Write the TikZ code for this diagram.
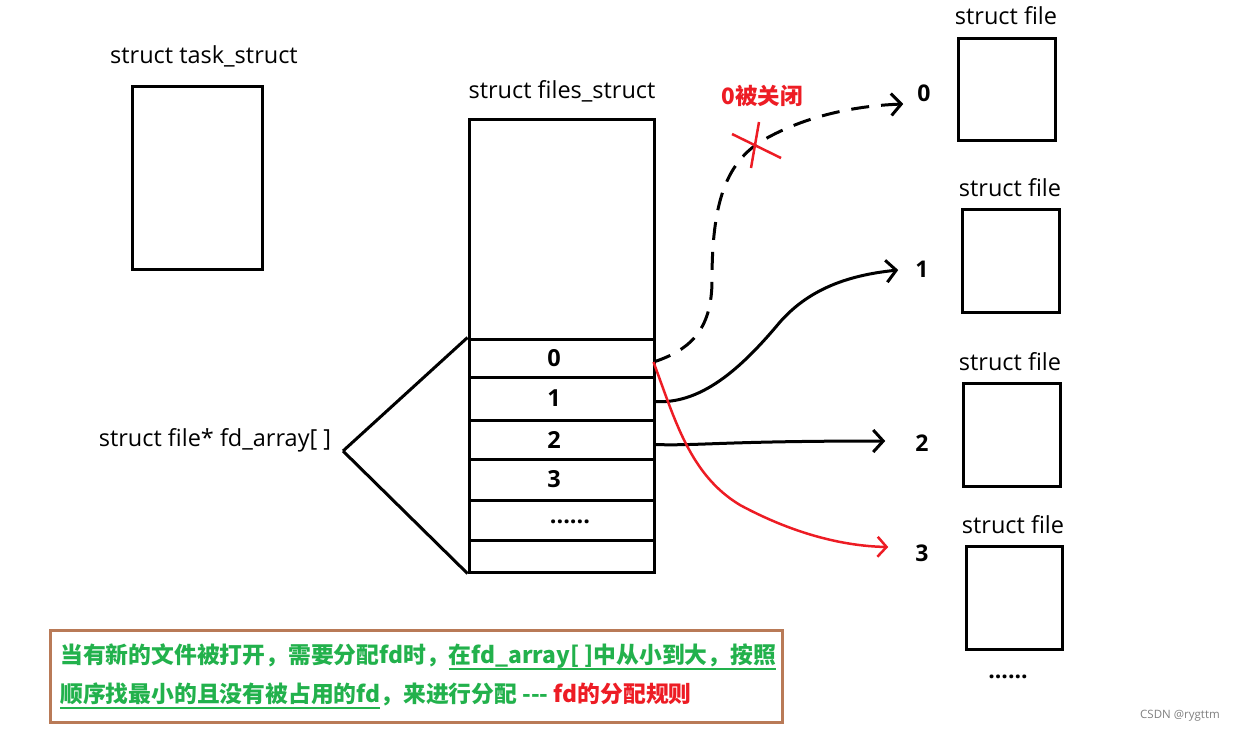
\documentclass[tikz,border=0pt]{standalone}
\usepackage{fontspec}
\setmainfont{Open Sans}
\newfontfamily\cjk{Noto Sans CJK SC}
\usetikzlibrary{arrows.meta,calc}
\definecolor{pgreen}{HTML}{22B14C}
\definecolor{pred}{HTML}{ED1C24}
\definecolor{pbrown}{HTML}{B97A57}
\newcommand\myul[1]{\setbox0\hbox{#1}\rlap{\color{pgreen}\rule[-6pt]{\wd0}{2pt}}\box0}
\newcommand\slotnum[1]{\hspace*{-15pt}#1}
\tikzset{
  box/.style={draw, line width=3pt, inner sep=0pt},
  slotbox/.style={draw, line width=3pt, inner sep=0pt, minimum width=185pt, font=\bfseries\fontsize{23.5}{26}\selectfont},
  lbl/.style={font=\fontsize{23.5}{27}\selectfont, inner sep=0pt},
  num/.style={font=\bfseries\fontsize{23}{26}\selectfont, inner sep=0pt},
  conn/.style={line width=3pt, -{Straight Barb[length=10pt,width=22pt,line width=3pt]}},
  redconn/.style={line width=2.5pt, pred, -{Straight Barb[length=9pt,width=20pt,line width=2.5pt]}},
}
\begin{document}
\begin{tikzpicture}[x=1pt,y=-1pt]
\useasboundingbox (0,0) rectangle (1234,732);
% task_struct
\node[lbl] (tasklbl) at (204,56) {struct task\_struct};
\node[box, minimum width=130pt, minimum height=183pt] (task) at (197,177.5) {};
% files_struct
\node[lbl] (fileslbl) at (562,91) {struct files\_struct};
\node[box, minimum width=185pt, minimum height=453pt] (files) at (561.5,345.5) {};
\node[slotbox, minimum height=38pt] (s0) at (561.5,358) {\slotnum{0}};
\node[slotbox, minimum height=43pt] (s1) at (561.5,398.5) {\slotnum{1}};
\node[slotbox, minimum height=39pt] (s2) at (561.5,439.5) {\slotnum{2}};
\node[slotbox, minimum height=41pt] (s3) at (561.5,479.5) {\slotnum{3}};
\node[slotbox, minimum height=40pt] (s4) at (561.5,520) {\hspace*{17pt}\raisebox{-7pt}{......}};
\node[slotbox, minimum height=32pt] (s5) at (561.5,556) {};
% fd_array label and bracket
\node[lbl] (fdlbl) at (215,440) {struct file* fd\_array[ ]};
\coordinate (br) at (343,451);
\draw[line width=3pt] (br) -- (s0.north west);
\draw[line width=3pt] (br) -- (s5.south west);
% struct file boxes
\node[lbl] (f0lbl) at (1006,16) {struct file};
\node[box, minimum width=97pt, minimum height=102pt] (f0) at (1006.5,89) {};
\node[lbl] (f1lbl) at (1010,188) {struct file};
\node[box, minimum width=97pt, minimum height=103pt] (f1) at (1010.5,260.5) {};
\node[lbl] (f2lbl) at (1010,362) {struct file};
\node[box, minimum width=97pt, minimum height=103pt] (f2) at (1011.5,434.5) {};
\node[lbl] (f3lbl) at (1013,525) {struct file};
\node[box, minimum width=96pt, minimum height=103pt] (f3) at (1014,597.5) {};
\node[num] (fdots) at (1008,677) {......};
% numbers
\node[num] (n0) at (924,93) {0};
\node[num] (n1) at (922,269) {1};
\node[num] (n2) at (922,443) {2};
\node[num] (n3) at (922,553) {3};
% connectors
\draw[conn, dash pattern=on 18pt off 12pt] ($(s0.east)+(-2,4)$) .. controls (690,350) and (712,330) .. (712,280)
  .. controls (712,205) and (725,165) .. (760,142) .. controls (800,118) and (850,106) .. ($(n0.west)+(-14,11)$);
\draw[conn] ($(s1.east)+(-2,3)$) .. controls (700,405) and (740,370) .. (780,322)
  .. controls (810,288) and (850,275) .. ($(n1.west)+(-17,1)$);
\draw[conn] ($(s2.east)+(-2,5)$) .. controls (700,446) and (720,441) .. ($(n2.west)+(-30,-2)$);
\draw[redconn] ($(s0.east)+(-2,4)$) .. controls (675,420) and (690,475) .. (740,505)
  .. controls (790,532) and (840,546) .. ($(n3.west)+(-27,-6)$);
% red cross
\node[font=\cjk\bfseries\fontsize{22.5}{26}\selectfont, text=pred, inner sep=0pt] (closed) at (762,96) {0被关闭};
\coordinate (xc) at (756,145);
\draw[pred, line width=2.5pt] ($(xc)+(-24,-11)$) -- ($(xc)+(25,13)$);
\draw[pred, line width=2.5pt] ($(xc)+(3,-23)$) -- ($(xc)+(-5,23)$);
% note box
\node[draw=pbrown, line width=3pt, minimum width=732pt, minimum height=92pt, inner sep=0pt] (note) at (416,676) {};
\node[anchor=west, text=pgreen, inner sep=0pt, font=\cjk\bfseries\fontsize{22.8}{26}\selectfont] (l1) at (60,657)
  {当有新的文件被打开，需要分配fd时，\myul{在fd\_array[ ]中从小到大，按照}};
\node[anchor=west, text=pgreen, inner sep=0pt, font=\cjk\bfseries\fontsize{22.8}{26}\selectfont] (l2) at (60,696)
  {\myul{顺序找最小的且没有被占用的fd}，来进行分配 -{}-{}- \textcolor{pred}{fd的分配规则}};
% watermark
\node[text=gray, font=\fontsize{11.5}{13}\selectfont, inner sep=0pt] (wm) at (1180,716) {CSDN @rygttm};
\end{tikzpicture}
\end{document}
